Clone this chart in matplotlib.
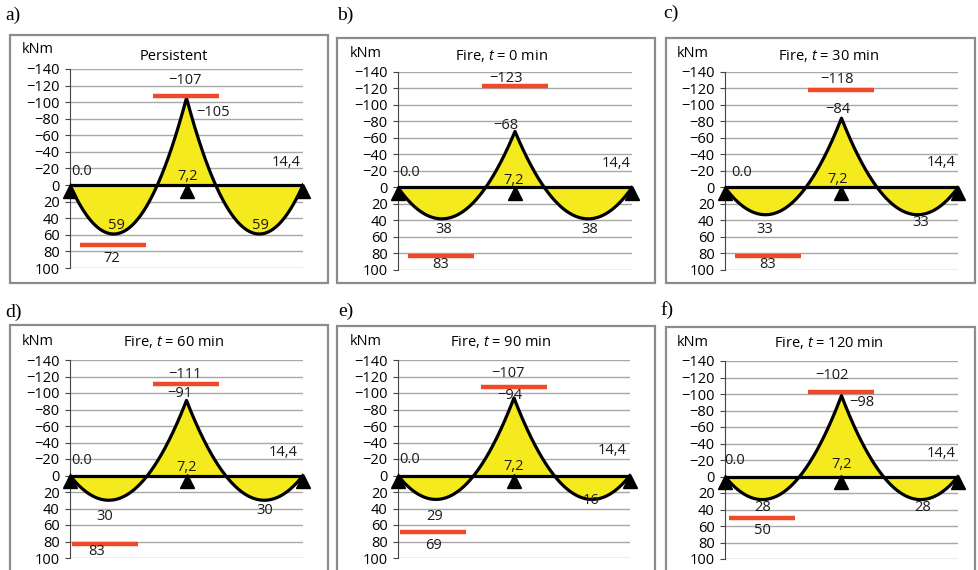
import matplotlib
matplotlib.use('Agg')
import matplotlib.pyplot as plt
import numpy as np
from matplotlib.patches import Rectangle

plt.rcParams['font.family'] = ['Open Sans', 'DejaVu Sans']
plt.rcParams['mathtext.fontset'] = 'custom'
plt.rcParams['mathtext.rm'] = 'Open Sans'
plt.rcParams['mathtext.it'] = 'Open Sans:italic'

# two equal spans, supports at 0, 7.2 and 14.4 m
span = 7.2
panel_tags = ['a)', 'b)', 'c)', 'd)', 'e)', 'f)']
titles = ['Persistent', 'Fire, $t$ = 0 min', 'Fire, $t$ = 30 min',
          'Fire, $t$ = 60 min', 'Fire, $t$ = 90 min', 'Fire, $t$ = 120 min']
support_moment = [-105, -68, -84, -91, -94, -98]   # kNm over middle support
span_moment = [59, 38, 33, 30, 29, 28]             # kNm max sagging
right_span_text = ['59', '38', '33', '30', '16', '28']
hog_resistance = [-107, -123, -118, -111, -107, -102]
sag_resistance = [72, 83, 83, 83, 69, 50]
y_ticks = np.arange(-140, 101, 20)

W, H = 979, 570
YELLOW = '#f5ea1e'
RED = '#ee4a2a'
FS = 10.5

# axes and frame rectangles in pixels (x0, y0, x1, y1 from top-left)
axes_px = [(70, 69, 303, 268), (398, 72, 632, 270), (725, 72, 958, 270),
           (70, 360, 303, 558), (398, 360, 630, 558), (725, 361, 958, 559)]
frame_px = [(10, 35, 328, 283), (337, 38, 655, 283), (666, 38, 975, 283),
            (10, 325, 328, 600), (337, 326, 655, 600), (666, 327, 975, 600)]
tag_px = [(5, 15), (337, 15), (663, 13), (5, 312), (338, 311), (660, 310)]
title_y = [-155, -160, -160, -162, -162, -162]

# label centres in data units:
# resistance top, support moment, 0.0, 14,4, 7,2, left span, right span, resistance bottom
label_pos = [
    [(7.1, -126), (8.85, -88), (0.73, -16), (13.35, -27), (7.3, -10), (2.9, 49), (11.74, 49), (2.6, 89)],
    [(6.65, -132), (6.65, -75), (0.74, -18), (13.4, -29), (7.1, -8), (2.8, 51), (11.8, 51), (2.6, 93)],
    [(6.95, -131), (6.95, -95), (1.0, -18), (13.33, -30), (6.96, -10), (2.47, 51), (12.1, 43), (2.63, 93)],
    [(7.1, -123), (6.8, -99), (0.72, -18), (13.2, -28), (7.2, -10), (2.16, 50), (12.05, 43), (1.65, 92)],
    [(6.8, -124), (6.95, -97), (0.75, -19), (13.27, -30), (7.15, -11), (2.3, 50), (12.0, 30), (2.2, 85)],
    [(6.6, -122), (8.45, -90), (0.62, -19), (13.33, -28), (7.2, -14), (2.3, 38), (12.2, 38), (2.3, 65)],
]
sag_bar_start = [0.62, 0.6, 0.62, 0.1, 0.12, 0.25]


def span_curve(m_max, m_sup, L, n=300):
    # parabola M = a*x - q*x^2/2 with M(0)=0, M(L)=m_sup and peak m_max
    s = (np.sqrt(2 * m_max) + np.sqrt(2 * m_max - 2 * m_sup)) / L
    q = s ** 2
    a = np.sqrt(2 * q * m_max)
    x = np.linspace(0, L, n)
    return x, a * x - q * x ** 2 / 2


def fmt(v):
    return str(v).replace('-', '\u2212')


fig = plt.figure(figsize=(W / 100, H / 100), dpi=100)

for i in range(6):
    fx0, fy0, fx1, fy1 = frame_px[i]
    fig.patches.append(Rectangle((fx0 / W, 1 - fy1 / H), (fx1 - fx0) / W, (fy1 - fy0) / H,
                                 transform=fig.transFigure, fill=False,
                                 edgecolor='#8c8c8c', lw=1.6))
    tx, ty = tag_px[i]
    fig.text(tx / W, 1 - ty / H, panel_tags[i], family='Liberation Serif',
             fontsize=14, ha='left', va='center')

    x0, y0, x1, y1 = axes_px[i]
    ax = fig.add_axes([x0 / W, 1 - y1 / H, (x1 - x0) / W, (y1 - y0) / H])
    ax.set_xlim(0, 2 * span)
    ax.set_ylim(100, -140)
    for side in ['top', 'right', 'bottom']:
        ax.spines[side].set_visible(False)
    ax.spines['left'].set_color('#444444')
    ax.spines['left'].set_linewidth(0.8)
    ax.set_xticks([])
    ax.set_yticks(y_ticks)
    ax.set_yticklabels([fmt(t) for t in y_ticks], fontsize=FS)
    ax.tick_params(axis='y', length=3.5, width=0.8, color='#444444', pad=4)
    ax.yaxis.grid(True, color='#a8a8a8', lw=1.0)
    ax.set_axisbelow(True)

    # bending moment diagram
    x, m = span_curve(span_moment[i], support_moment[i], span)
    xs = np.concatenate([x, 2 * span - x[::-1]])
    ms = np.concatenate([m, m[::-1]])
    ax.fill_between(xs, ms, 0, color=YELLOW, lw=0, zorder=2)
    ax.plot(xs, ms, color='black', lw=2.3, zorder=3)
    ax.plot([0, 2 * span], [0, 0], color='black', lw=2.3, zorder=3)

    # supports
    ax.plot([0, span, 2 * span], [7, 7, 7], marker='^', ms=10, color='black',
            ls='none', clip_on=False, zorder=5)

    # resistance levels
    ax.plot([5.15, 9.22], [hog_resistance[i]] * 2, color=RED, lw=3.2,
            solid_capstyle='butt', zorder=4)
    ax.plot([sag_bar_start[i], sag_bar_start[i] + 4.1], [sag_resistance[i]] * 2,
            color=RED, lw=3.2, solid_capstyle='butt', zorder=4)

    texts = [fmt(hog_resistance[i]), fmt(support_moment[i]), '0.0', '14,4', '7,2',
             str(span_moment[i]), right_span_text[i], str(sag_resistance[i])]
    for t, (px, py) in zip(texts, label_pos[i]):
        ax.text(px, py, t, fontsize=FS, ha='center', va='center',
                color='#1a1a1a', zorder=6, clip_on=False)

    ax.text(6.4, title_y[i], titles[i], fontsize=FS, ha='center', va='center',
            clip_on=False)
    ax.text(-2.0, -163, 'kNm', fontsize=FS, ha='center', va='center',
            clip_on=False)

fig.savefig('out.png', dpi=100)
